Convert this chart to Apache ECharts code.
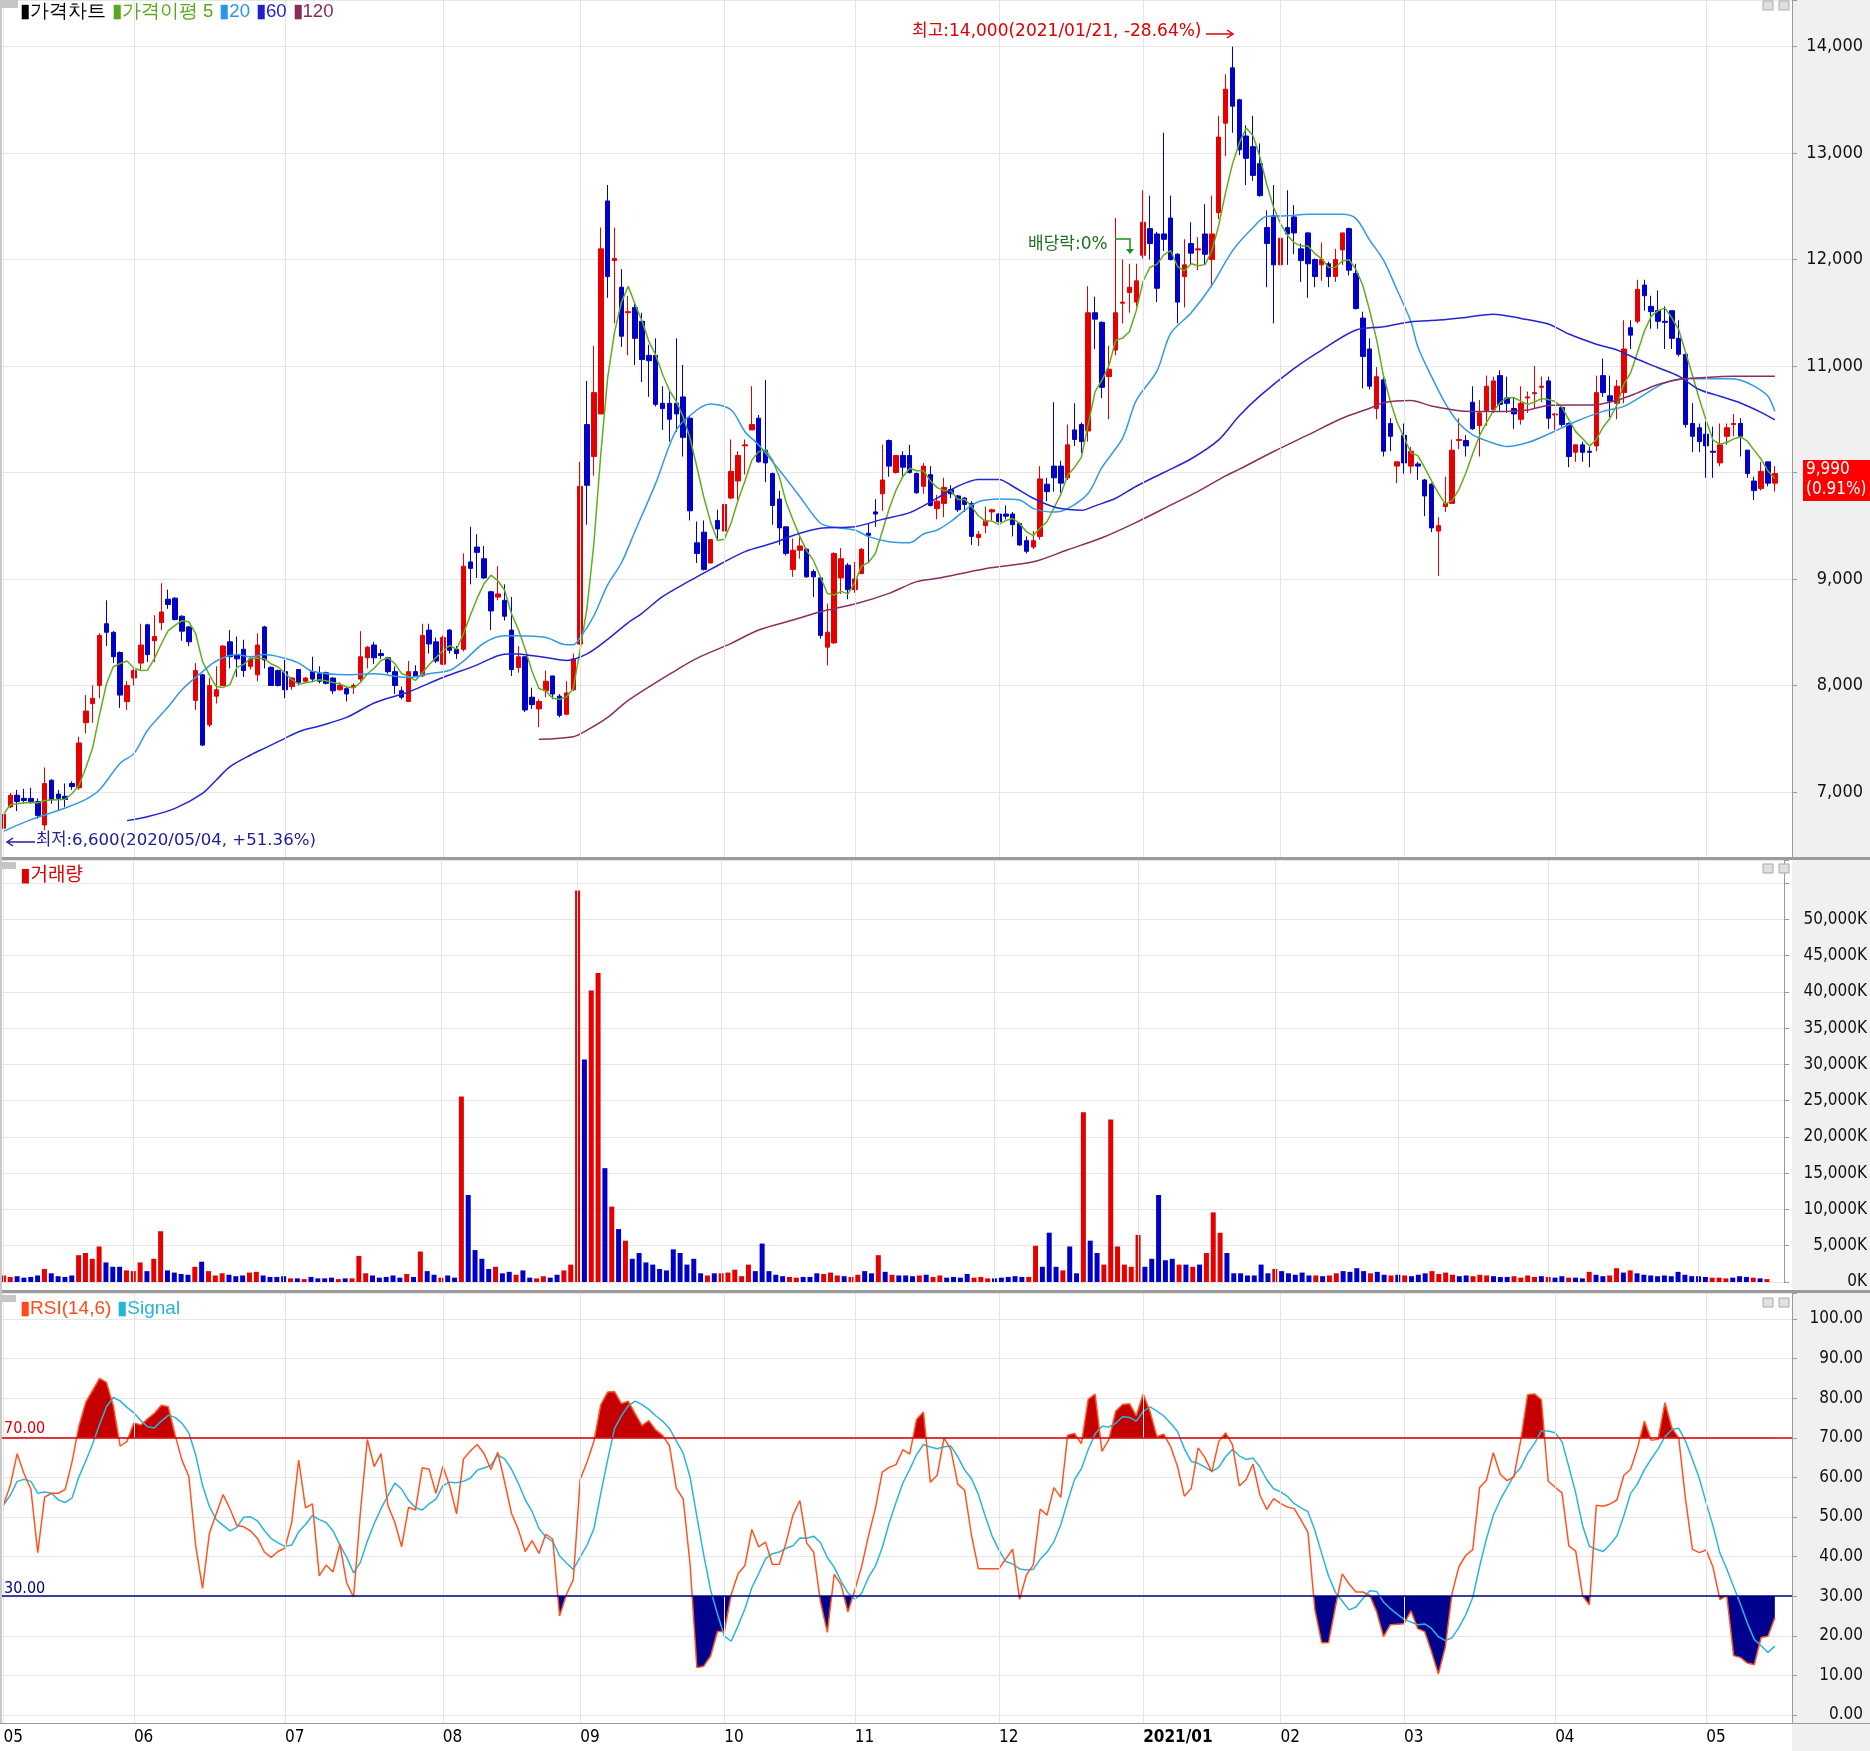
<!DOCTYPE html>
<html><head><meta charset="utf-8">
<script src="https://cdn.jsdelivr.net/npm/echarts@6/dist/echarts.min.js"></script>
<style>html,body{margin:0;padding:0;background:#fff;overflow:hidden}#c{width:1870px;height:1751px}</style>
</head><body><div id="c"></div>
<script>
// ---------- data ----------
const monthStarts = [0,19,41,64,84,105,124,145,166,186,204,226,248];
const monthLabels = ['05','06','07','08','09','10','11','12','2021/01','02','03','04','05'];
const priceTicks = [7000,8000,9000,11000,12000,13000,14000];

const open = [6660,6860,6970,6940,6940,6910,6690,7110,6980,6960,
7080,7040,7650,7830,8000,8580,8500,8310,7850,8070,
8210,8570,8420,8590,8810,8820,8650,8550,7860,8100,
7630,7900,8000,8410,8290,8340,8180,8100,8550,8170,
8140,8130,7990,8150,8040,8130,8110,8120,8070,7960,
7970,7980,8060,8260,8380,8300,8260,8130,7950,7850,
8130,8090,8520,8410,8200,8520,8340,8340,9160,9300,
9190,8880,8830,8800,8520,8170,8270,7890,7780,7950,
8090,7900,7730,7960,8390,10450,10150,10550,12550,11990,
11740,11500,11550,11420,11100,11100,10650,10650,10650,10710,
10510,9340,9440,9150,9550,9450,9760,9920,10250,10400,
10510,10210,9990,9750,9490,9090,9270,9280,9070,9010,
8360,8400,9010,9130,8900,9050,9430,9630,9800,10300,
10000,10160,10160,9990,9870,9980,9660,9710,9840,9780,
9760,9710,9390,9500,9630,9610,9610,9610,9520,9360,
9300,9400,9890,10060,10060,9950,10400,10450,10390,11500,
11410,10900,11150,11590,11690,11600,12040,12290,12240,12240,
12390,12050,11840,12150,12090,12240,12000,12440,13280,13800,
13500,13160,13060,12900,12300,12410,11950,12300,12400,12100,
12250,12000,11950,11960,11840,12090,12290,11870,11450,11160,
10600,10870,10460,10060,10350,10060,10080,9930,9890,9450,
9680,9710,10300,10300,10660,10440,10580,10590,10910,10700,
10600,10500,10700,10740,10800,10860,10540,10610,10460,10190,
10260,10200,10250,10910,10720,10650,10750,11360,11420,11760,
11560,11520,11420,11520,11260,11110,10460,10420,10360,10200,
10090,10340,10450,10460,10210,9920,9850,10100,9900];

const high = [6850,6990,7020,7030,7040,6940,7230,7120,7020,7080,
7100,7520,7910,8000,8490,8800,8510,8320,8040,8160,
8580,8580,8660,8960,8900,8830,8660,8560,8210,8110,
8070,8180,8380,8520,8460,8430,8270,8490,8560,8180,
8150,8240,8080,8150,8080,8270,8180,8130,8080,8030,
7990,8020,8510,8370,8410,8340,8270,8180,7990,8230,
8190,8580,8580,8450,8470,8530,8370,9240,9490,9420,
9310,8890,9120,8950,8830,8370,8270,7980,7870,8140,
8090,7920,8040,8300,10100,10860,11190,12300,12700,12300,
11910,11660,11600,11500,11200,11260,10810,10760,11260,11010,
10530,9540,9550,9370,9650,9810,10310,10200,10310,10810,
10540,10870,10000,9830,9490,9380,9400,9290,9090,9020,
8770,9250,9290,9150,9160,9290,9520,9750,10260,10310,
10160,10200,10260,10000,10090,10060,9790,9950,9880,9790,
9770,9730,9450,9680,9660,9620,9690,9630,9530,9400,
9450,10060,9950,10660,10110,10450,10650,10470,11750,11650,
11420,11190,12390,12000,11960,11960,12650,12600,12260,13190,
12600,12060,12190,12350,12210,12520,12600,13350,13740,14000,
13510,13260,13350,13090,12460,12700,12300,12650,12510,12150,
12260,12010,12160,11980,12100,12250,12300,11960,11510,11260,
10990,10910,10510,10100,10460,10240,10100,9940,9900,9580,
9960,10310,10510,10350,10810,10680,10910,10900,10960,10900,
10710,10810,10760,11000,10900,10900,10560,10620,10470,10260,
10290,10240,10910,11070,10910,10870,11430,11430,11810,11810,
11660,11710,11560,11520,11430,11120,10650,10460,10480,10430,
10460,10460,10550,10510,10210,9960,10100,10100,10060];

const low = [6600,6850,6820,6890,6890,6750,6640,6890,6820,6860,
7020,7020,7550,7650,7880,8370,8210,7790,7770,8000,
8150,8220,8220,8520,8720,8610,8420,8370,7770,7430,
7610,7830,8000,8160,8080,8080,8150,8040,8160,8000,
7990,7880,7960,8000,8030,8030,8020,8010,7920,7950,
7850,7920,8040,8160,8200,8250,8110,7920,7870,7850,
8080,8080,8300,8210,8190,8300,8250,8320,8950,9010,
9000,8520,8800,8610,8090,8120,7750,7780,7610,7890,
7870,7700,7720,7950,8380,9510,9970,10550,11640,11400,
11180,11100,11010,10850,10710,10620,10400,10290,10380,10150,
9550,9150,9080,9150,9360,9430,9750,9740,9980,10400,
10090,9910,9510,9320,9220,9020,9190,9010,8830,8440,
8190,8390,8860,8810,8870,9050,9160,9490,9640,9960,
9990,9960,9990,9800,9800,9680,9560,9580,9760,9630,
9630,9320,9310,9430,9550,9530,9560,9400,9310,9240,
9280,9370,9730,9820,9810,9930,10250,10180,10290,11160,
10700,10500,11100,11400,11500,11560,12010,12000,11600,12080,
11990,11400,11550,11950,11900,11950,11740,12380,12970,13190,
12980,12700,12740,12590,11740,11400,11600,11950,12050,11790,
11640,11740,11800,11740,11790,11950,11850,11530,10790,10780,
10500,10150,10200,9900,9990,9990,9930,9590,9440,9030,
9630,9710,10220,10150,10400,10150,10440,10560,10580,10560,
10410,10450,10560,10600,10660,10410,10400,10430,10050,10100,
10100,10050,10200,10710,10520,10500,10650,11160,11400,11520,
11350,11350,11160,11160,11090,10420,10190,10190,9950,9950,
10060,10260,10340,10150,9950,9740,9830,9870,9820];

const close = [6790,6970,6910,6920,6910,6780,7080,6930,6940,6930,
7050,7460,7760,7880,8470,8500,8270,7910,8000,8140,
8380,8290,8460,8690,8760,8620,8510,8410,8140,7440,
8000,7960,8370,8270,8250,8140,8250,8380,8240,8000,
8000,7960,8070,8030,8070,8060,8040,8020,7950,8000,
7920,8000,8270,8360,8260,8280,8130,8000,7890,8130,
8090,8470,8390,8230,8450,8330,8300,9120,9100,9250,
9010,8700,8860,8650,8150,8270,7770,7820,7850,8040,
7920,7720,7930,8250,9870,9880,10750,12100,11840,12010,
11280,11510,11260,11060,11050,10640,10600,10500,10550,10330,
9640,9240,9090,9370,9470,9700,10010,10160,10260,10450,
10100,10090,9690,9480,9240,9270,9310,9020,9020,8470,
8500,9240,9190,8900,9000,9280,9410,9610,9930,10060,
10160,10050,10000,9810,10060,9690,9730,9860,9800,9650,
9700,9400,9420,9550,9650,9540,9590,9510,9320,9260,
9360,9940,9820,9950,9900,10260,10310,10290,11500,11440,
10800,10970,11500,11600,11740,11800,12350,12150,11730,12190,
12000,11600,11950,12060,12100,12050,12240,13150,13600,13440,
13030,12950,12790,12600,12150,11950,12200,12240,12250,11990,
11960,11840,12000,11840,12000,12250,11900,11540,11090,10810,
10900,10200,10340,10100,10090,10200,10060,9780,9480,9500,
9710,10210,10310,10250,10410,10560,10810,10860,10640,10650,
10550,10650,10710,10750,10810,10510,10550,10450,10150,10260,
10190,10190,10750,10750,10670,10810,11160,11290,11720,11660,
11510,11420,11410,11260,11110,10450,10340,10290,10250,10190,
10260,10420,10460,10340,9990,9830,10010,9900,9990];

// volume in thousands of shares (K)
const volume = [900,700,800,600,700,900,1800,1200,800,700,
900,3700,4000,3200,4900,2700,2100,2100,1600,1500,
2700,1500,3200,7000,1600,1300,1100,1000,2100,2800,
1500,900,1200,1000,800,900,1300,1400,900,700,
700,800,500,500,400,700,500,500,600,400,
500,500,3600,1200,900,600,700,900,600,1100,
700,4200,1500,1000,600,900,600,25600,12000,4400,
3200,1800,2100,1200,1400,1000,1600,600,500,800,
600,1000,1600,2400,54000,30700,40200,42600,15700,10400,
7300,5700,3200,4000,2700,2400,1800,1600,4500,4000,
2400,3200,1200,900,1200,1200,1300,1700,800,2400,
1500,5300,1500,1000,800,700,600,700,700,1200,
1100,1300,900,800,700,1000,1500,1200,3700,1400,
1000,900,900,800,900,1000,700,900,600,700,
600,1100,600,700,500,500,600,700,800,700,
700,5000,2100,6800,2100,1600,4900,1200,23400,5700,
4000,2400,22400,4900,2400,2100,6500,2100,3200,12000,
3000,3200,2400,2400,2100,2400,4000,9600,6800,4000,
1200,1200,900,900,2400,1200,1800,1500,1200,1000,
1300,900,900,800,900,1200,1500,1400,1900,1500,
1200,1400,1000,900,1000,900,800,1000,1200,1500,
1100,1300,1000,800,900,800,1000,900,800,700,
700,800,600,900,700,800,700,600,800,600,
600,500,1400,1000,800,900,1900,1300,1600,1200,
1000,900,800,900,800,1400,1000,800,800,700,
600,600,500,600,800,700,600,500,400];

// RSI values read for the first 14 days (look-back window not yet complete inside the chart)
const rsiHead = [53,58,66,61,57,41,55,56,56,57,64,73,79,82];

// moving averages read at sample days: [dayIndex, value]
const ma20Pts = [[0,6630],[4,6740],[9,6850],[12,6930],[14,7020],[17,7270],[19,7360],[21,7580],[24,7800],[26,7960],[29,8130],[31,8230],[34,8290],[36,8270],[38,8290],[41,8255],[43,8210],[45,8133],[50,8100],[54,8110],[59,8075],[62,8110],[65,8143],[67,8229],[70,8399],[73,8468],[75,8468],[79,8450],[82,8382],[83,8382],[84,8450],[86,8655],[88,8945],[90,9150],[92,9450],[95,9898],[98,10399],[101,10587],[103,10643],[106,10587],[108,10383],[110,10258],[113,10023],[116,9773],[119,9523],[121,9485],[124,9460],[126,9398],[129,9350],[132,9341],[134,9422],[136,9460],[138,9540],[140,9645],[142,9726],[145,9752],[148,9742],[150,9661],[153,9629],[155,9661],[158,9806],[160,10048],[163,10322],[165,10677],[168,10952],[170,11306],[173,11500],[176,11758],[179,12081],[182,12300],[184,12406],[187,12410],[190,12425],[195,12425],[197,12384],[199,12181],[201,11994],[203,11712],[205,11416],[206,11181],[208,10900],[210,10650],[212,10462],[214,10353],[217,10275],[219,10244],[222,10281],[225,10360],[229,10479],[233,10574],[236,10621],[239,10732],[242,10842],[245,10880],[248,10880],[251,10880],[253,10867],[255,10811],[257,10716],[258,10574]];
const ma60Pts = [[18,6731],[21,6768],[25,6846],[29,6987],[31,7112],[33,7238],[36,7347],[38,7410],[41,7504],[43,7566],[46,7620],[50,7700],[54,7836],[59,7939],[64,8075],[69,8194],[72,8280],[74,8297],[79,8263],[82,8235],[85,8297],[88,8433],[91,8590],[93,8678],[96,8834],[100,8984],[103,9091],[108,9257],[112,9335],[116,9429],[119,9476],[124,9491],[128,9560],[132,9623],[136,9760],[139,9871],[142,9935],[145,9935],[147,9871],[150,9758],[152,9700],[154,9661],[157,9645],[159,9687],[162,9758],[165,9871],[169,10000],[173,10129],[177,10306],[180,10532],[183,10720],[188,10978],[192,11150],[197,11338],[201,11369],[205,11416],[209,11431],[213,11456],[217,11487],[221,11447],[225,11395],[228,11300],[232,11205],[235,11151],[238,11063],[241,10984],[244,10905],[247,10779],[250,10716],[253,10653],[256,10565],[258,10495]];
const ma120Pts = [[78,7495],[83,7519],[85,7580],[88,7700],[91,7860],[98,8145],[101,8255],[106,8396],[110,8521],[115,8615],[119,8693],[124,8765],[129,8865],[133,8975],[136,9006],[143,9097],[150,9161],[155,9274],[160,9387],[165,9532],[170,9693],[174,9823],[178,9968],[180,10031],[185,10197],[190,10353],[195,10509],[199,10603],[201,10656],[205,10675],[208,10625],[212,10581],[217,10572],[222,10587],[225,10630],[232,10637],[235,10678],[238,10748],[241,10826],[244,10874],[247,10890],[252,10905],[258,10905]];

// ---------- derived (indicators computed from the read prices) ----------
const N = close.length, PAD = 2;
const cats = Array.from({length: N + PAD}, (_, i) => String(i));
const labelAt = new Map(monthStarts.map((s, k) => [s, monthLabels[k]]));
const candle = open.map((o, i) => [o, close[i], low[i], high[i]]);
const ma5 = close.map((c, i) => { const s = close.slice(Math.max(0, i - 4), i + 1); return Math.round(s.reduce((a, b) => a + b, 0) / s.length); });
function rsiAt(c, i, n) { let up = 0, dn = 0; for (let j = i - n + 1; j <= i; j++) { const d = c[j] - c[j - 1]; if (d > 0) up += d; else dn -= d; } return (up + dn) ? 100 * up / (up + dn) : 50; }
const rsi = close.map((_, i) => i < rsiHead.length ? rsiHead[i] : rsiAt(close, i, 14));
const signal = rsi.map((v, i) => { const s = rsi.slice(Math.max(0, i - 5), i + 1); return s.reduce((a, b) => a + b, 0) / s.length; });

const RED = '#e60000', BLUE = '#0000c8';
const NUMF = '"Liberation Sans Narrow","DejaVu Sans Condensed","Liberation Sans",sans-serif';
const TXTF = '"DejaVu Sans","Noto Sans CJK KR",sans-serif';
const volData = volume.map((v, i) => ({ value: v, itemStyle: { color: close[i] >= open[i] ? RED : BLUE } }));
const vLines = monthStarts.map(i => ({ xAxis: String(i) }));
const gridSeries = g => ({ type: 'line', xAxisIndex: g, yAxisIndex: g, data: [], z: 0, silent: true,
  markLine: { silent: true, symbol: ['none', 'none'], label: { show: false }, animation: false,
    lineStyle: { color: '#e4e4e4', width: 1, type: 'solid' }, data: vLines } });

const chart = echarts.init(document.getElementById('c'), null, { width: 1870, height: 1751 });
const option = {
  animation: false,
  backgroundColor: '#ffffff',
  grid: [
    { left: 0, top: 0, width: 1792, height: 858 },
    { left: 0, top: 860, width: 1792, height: 422 },
    { left: 0, top: 1293, width: 1792, height: 430 }
  ],
  xAxis: [0, 1, 2].map(g => ({
    type: 'category', gridIndex: g, data: cats, boundaryGap: true,
    axisLine: { show: false }, axisTick: { show: false }, splitLine: { show: false },
    axisLabel: g === 2 ? {
      show: true, interval: (idx) => labelAt.has(idx), align: 'left', margin: 6,
      color: '#000', fontSize: 17, fontFamily: NUMF,
      formatter: (v, idx) => { const l = labelAt.get(Number(v)); return l === '2021/01' ? '{b|' + l + '}' : (l || ''); },
      rich: { b: { fontWeight: 'bold', fontSize: 17, fontFamily: NUMF, color: '#000' } }
    } : { show: false }
  })),
  yAxis: [
    { gridIndex: 0, type: 'value', position: 'right', min: 6380, max: 14437, splitNumber: 8,
      axisLine: { show: true, lineStyle: { color: '#9a9a9a' } }, axisTick: { show: true, length: 5, lineStyle: { color: '#9a9a9a' } },
      splitLine: { show: true, lineStyle: { color: '#e6e6e6' } },
      axisLabel: { align: 'right', margin: 71, color: '#111', fontSize: 18, fontFamily: NUMF,
        formatter: v => priceTicks.includes(v) ? v.toLocaleString('en-US') : '' } },
    { gridIndex: 1, type: 'value', position: 'right', min: 0, max: 58200, splitNumber: 11,
      axisLine: { show: true, lineStyle: { color: '#9a9a9a' } }, axisTick: { show: true, length: 5, lineStyle: { color: '#9a9a9a' } },
      splitLine: { show: true, lineStyle: { color: '#e6e6e6' } },
      axisLabel: { align: 'right', margin: 83, color: '#111', fontSize: 17, fontFamily: NUMF,
        formatter: v => (v % 5000 === 0 && v <= 50000) ? v.toLocaleString('en-US') + 'K' : '' } },
    { gridIndex: 2, type: 'value', position: 'right', min: -2.02, max: 106.57, splitNumber: 10,
      axisLine: { show: true, lineStyle: { color: '#9a9a9a' } }, axisTick: { show: true, length: 5, lineStyle: { color: '#9a9a9a' } },
      splitLine: { show: true, lineStyle: { color: '#e6e6e6' } },
      axisLabel: { align: 'right', margin: 71, color: '#111', fontSize: 17, fontFamily: NUMF,
        formatter: v => (v % 10 === 0 && v >= 0 && v <= 100) ? v.toFixed(2) : '' } }
  ],
  visualMap: [{
    type: 'piecewise', show: false, seriesIndex: 10, dimension: 1,
    pieces: [{ lt: 30, color: '#00008e' }, { gte: 30, lte: 70, color: 'rgba(255,255,255,0)' }, { gt: 70, color: '#c40000' }]
  }],
  series: [
    gridSeries(0),
    { type: 'candlestick', xAxisIndex: 0, yAxisIndex: 0, data: candle, barWidth: 5, z: 3,
      itemStyle: { color: RED, color0: BLUE, borderColor: RED, borderColor0: BLUE, borderWidth: 1 } },
    { type: 'line', xAxisIndex: 0, yAxisIndex: 0, data: ma5, showSymbol: false, z: 4, lineStyle: { color: '#62ad1c', width: 1.5 } },
    { type: 'line', xAxisIndex: 0, yAxisIndex: 0, data: ma20Pts, showSymbol: false, smooth: 0.3, z: 4, lineStyle: { color: '#3399e6', width: 1.5 } },
    { type: 'line', xAxisIndex: 0, yAxisIndex: 0, data: ma60Pts, showSymbol: false, smooth: 0.3, z: 4, lineStyle: { color: '#2424d6', width: 1.5 } },
    { type: 'line', xAxisIndex: 0, yAxisIndex: 0, data: ma120Pts, showSymbol: false, smooth: 0.3, z: 4, lineStyle: { color: '#8a2f5e', width: 1.5 } },
    gridSeries(1),
    { type: 'bar', xAxisIndex: 1, yAxisIndex: 1, data: volData, barWidth: 5, z: 3 },
    gridSeries(2),
    { type: 'line', xAxisIndex: 2, yAxisIndex: 2, data: [], z: 1 },
    { type: 'line', xAxisIndex: 2, yAxisIndex: 2, data: rsi, showSymbol: false, z: 2,
      lineStyle: { width: 0, opacity: 0 }, areaStyle: { origin: 70, opacity: 1 } },
    { type: 'line', xAxisIndex: 2, yAxisIndex: 2, data: signal, showSymbol: false, z: 3, lineStyle: { color: '#2ab4dc', width: 1.5 } },
    { type: 'line', xAxisIndex: 2, yAxisIndex: 2, data: rsi, showSymbol: false, z: 4, lineStyle: { color: '#ff5420', width: 1.5 },
      markLine: { silent: true, symbol: ['none', 'none'], label: { show: false }, animation: false,
        data: [{ yAxis: 70, lineStyle: { color: '#e00000', width: 1.5, type: 'solid' } }, { yAxis: 30, lineStyle: { color: '#000080', width: 1.5, type: 'solid' } }] } }
  ],
  graphic: [
    { type: 'rect', z: -10, shape: { x: 1792, y: 0, width: 78, height: 1751 }, style: { fill: '#f0f0f0' } },
    { type: 'rect', z: 50, shape: { x: 0, y: 857, width: 1870, height: 3 }, style: { fill: '#9c9c9c' } },
    { type: 'rect', z: 50, shape: { x: 0, y: 1290, width: 1870, height: 3 }, style: { fill: '#9c9c9c' } },
    { type: 'rect', z: 50, shape: { x: 0, y: 1723, width: 1870, height: 1 }, style: { fill: '#9c9c9c' } },
    { type: 'rect', z: 50, shape: { x: 0, y: 0, width: 2, height: 1723 }, style: { fill: '#c8c8c8' } },
    { type: 'rect', z: 50, shape: { x: 2, y: 0, width: 16, height: 8 }, style: { fill: '#c6c6c6' } },
    { type: 'rect', z: 50, shape: { x: 2, y: 862, width: 14, height: 7 }, style: { fill: '#c6c6c6' } },
    { type: 'rect', z: 50, shape: { x: 2, y: 1295, width: 14, height: 7 }, style: { fill: '#c6c6c6' } },
    ...[1, 864, 1298].flatMap(y => [
      { type: 'rect', z: 50, shape: { x: 1763, y: y, width: 10, height: 9 }, style: { fill: '#e0e0e0', stroke: '#a8a8a8', lineWidth: 1 } },
      { type: 'rect', z: 50, shape: { x: 1779, y: y, width: 10, height: 9 }, style: { fill: '#e0e0e0', stroke: '#a8a8a8', lineWidth: 1 } }
    ]),
    { type: 'text', z: 60, left: 20, top: 2, style: { text: '{k|▮가격차트} {g|▮가격이평 5} {c|▮20} {b|▮60} {m|▮120}', font: '18.6px ' + TXTF,
      rich: { k: { fill: '#000', fontSize: 18.6 }, g: { fill: '#5aa51e', fontSize: 18.6 }, c: { fill: '#2b95e6', fontSize: 18.6 }, b: { fill: '#1f1fd0', fontSize: 18.6 }, m: { fill: '#8c2a5c', fontSize: 18.6 } } } },
    { type: 'text', z: 60, left: 20, top: 867, style: { text: '▮거래량', fill: '#e00000', font: '19px ' + TXTF } },
    { type: 'text', z: 60, left: 20, top: 1299, style: { text: '{o|▮RSI(14,6)} {s|▮Signal}', font: '19px ' + TXTF,
      rich: { o: { fill: '#ff4a1a', fontSize: 19 }, s: { fill: '#27b3d8', fontSize: 19 } } } },
    { type: 'text', z: 60, left: 912, top: 23, style: { text: '최고:14,000(2021/01/21, -28.64%)', fill: '#e00000', font: '17px ' + TXTF } },
    { type: 'polyline', z: 60, shape: { points: [[1206, 34], [1233, 34]] }, style: { stroke: '#e00000', lineWidth: 1.5 } },
    { type: 'polyline', z: 60, shape: { points: [[1227, 30], [1233, 34], [1227, 38]] }, style: { stroke: '#e00000', lineWidth: 1.5, fill: null } },
    { type: 'text', z: 60, left: 36, top: 832, style: { text: '최저:6,600(2020/05/04, +51.36%)', fill: '#202098', font: '16.6px ' + TXTF } },
    { type: 'polyline', z: 60, shape: { points: [[7, 842], [35, 842]] }, style: { stroke: '#202098', lineWidth: 1.5 } },
    { type: 'polyline', z: 60, shape: { points: [[13, 838], [7, 842], [13, 846]] }, style: { stroke: '#202098', lineWidth: 1.5, fill: null } },
    { type: 'text', z: 60, left: 1028, top: 236, style: { text: '배당락:0%', fill: '#217021', font: '17px ' + TXTF } },
    { type: 'polyline', z: 60, shape: { points: [[1115, 239], [1130, 239], [1130, 251]] }, style: { stroke: '#179017', lineWidth: 1.5, fill: null } },
    { type: 'polygon', z: 60, shape: { points: [[1126, 249], [1134, 249], [1130, 254]] }, style: { fill: '#179017' } },
    { type: 'text', z: 60, left: 4, top: 1421, style: { text: '70.00', fill: '#e00000', font: '16px ' + NUMF } },
    { type: 'text', z: 60, left: 4, top: 1581, style: { text: '30.00', fill: '#000080', font: '16px ' + NUMF } },
    { type: 'rect', z: 60, shape: { x: 1803, y: 460, width: 67, height: 41 }, style: { fill: '#ff0000' } },
    { type: 'text', z: 61, left: 1806, top: 461, style: { text: '9,990', fill: '#fff', font: '17px ' + NUMF } },
    { type: 'text', z: 61, left: 1806, top: 481, style: { text: '(0.91%)', fill: '#fff', font: '17px ' + NUMF } }
  ]
};
chart.setOption(option);
</script></body></html>
